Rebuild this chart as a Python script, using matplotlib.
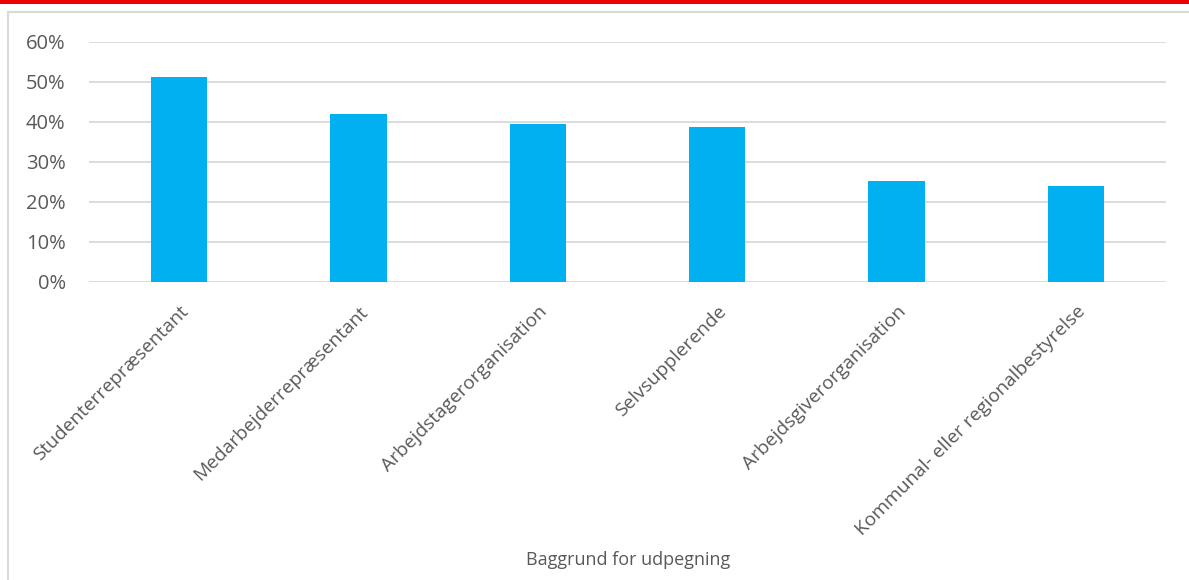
import matplotlib
matplotlib.use("Agg")
import matplotlib.pyplot as plt
from matplotlib.patches import Rectangle
from matplotlib.ticker import FuncFormatter, MultipleLocator

categories = ["Studenterrepræsentant", "Medarbejderrepræsentant", "Arbejdstagerorganisation",
              "Selvsupplerende", "Arbejdsgiverorganisation", "Kommunal- eller regionalbestyrelse"]
values = [51.1, 41.9, 39.4, 38.6, 25.1, 23.8]
x_title = "Baggrund for udpegning"

plt.rcParams['font.family'] = ['Open Sans', 'DejaVu Sans']
W, H = 1189, 580
fig = plt.figure(figsize=(W / 100, H / 100), dpi=100)
fig.patch.set_facecolor('white')

# chart frame and top red band
fig.add_artist(Rectangle((8 / W, -0.1), 1.2, 1 - 12 / H + 0.1, transform=fig.transFigure,
                         fill=False, edgecolor='#D9D9D9', linewidth=1.5))
fig.add_artist(Rectangle((0, 1 - 3.5 / H), 1, 3.5 / H, transform=fig.transFigure,
                         facecolor='#EC0000', edgecolor='none'))

ax = fig.add_axes([89.3 / W, 1 - 281.7 / H, (1165.7 - 89.3) / W, (281.7 - 41.7) / H])
xs = range(len(categories))
ax.bar(xs, values, width=0.314, color='#00B0F0', zorder=3)
ax.set_xlim(-0.5, len(categories) - 0.5)
ax.set_ylim(0, 60)
ax.yaxis.set_major_locator(MultipleLocator(10))
ax.yaxis.set_major_formatter(FuncFormatter(lambda v, p: f"{v:.0f}%"))
ax.grid(axis='y', color='#D9D9D9', linewidth=1.3, zorder=0)
ax.set_axisbelow(True)
for s in ax.spines.values():
    s.set_visible(False)
ax.tick_params(axis='both', length=0, colors='#595959')
ax.tick_params(axis='y', pad=17, labelsize=14.5)
ax.set_xticks(list(xs))
ax.set_xticklabels(categories, rotation=45, ha='right', rotation_mode='anchor', fontsize=13.8)
ax.tick_params(axis='x', pad=15)
fig.text(628 / W, 1 - 560 / H, x_title, ha='center', va='center', fontsize=13, color='#595959')

fig.savefig('out.png', dpi=100, facecolor='white')
